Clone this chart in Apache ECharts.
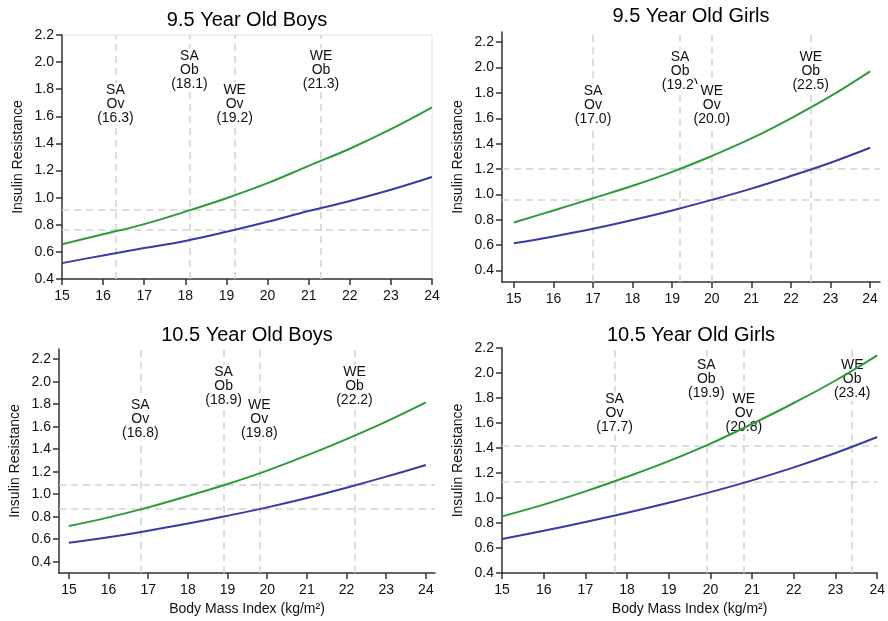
<!DOCTYPE html>
<html>
<head>
<meta charset="utf-8">
<script src="https://cdn.jsdelivr.net/npm/echarts@6/dist/echarts.min.js"></script>
<style>
html,body{margin:0;padding:0;background:#fff;}
#chart{width:888px;height:621px;}
</style>
</head>
<body>
<div id="chart"></div>
<script>
// ---- data ----
const bmi = [15, 16, 17, 18, 19, 20, 21, 22, 23, 24];
const xTicks = [15, 16, 17, 18, 19, 20, 21, 22, 23, 24];
const yTicks = [0.4, 0.6, 0.8, 1.0, 1.2, 1.4, 1.6, 1.8, 2.0, 2.2];

const titles = ['9.5 Year Old Boys', '9.5 Year Old Girls', '10.5 Year Old Boys', '10.5 Year Old Girls'];

// South Asian (green) and White European (blue) insulin resistance by BMI
const boys95SA  = [0.656, 0.730, 0.805, 0.897, 0.996, 1.107, 1.235, 1.361, 1.505, 1.666];
const boys95WE  = [0.517, 0.574, 0.628, 0.681, 0.748, 0.822, 0.901, 0.975, 1.058, 1.152];
const girls95SA = [0.779, 0.874, 0.970, 1.068, 1.178, 1.303, 1.441, 1.600, 1.774, 1.970];
const girls95WE = [0.615, 0.669, 0.729, 0.798, 0.874, 0.957, 1.046, 1.145, 1.250, 1.368];
const boys105SA = [0.717, 0.794, 0.883, 0.984, 1.091, 1.210, 1.345, 1.490, 1.645, 1.815];
const boys105WE = [0.569, 0.618, 0.676, 0.740, 0.809, 0.883, 0.966, 1.058, 1.156, 1.260];
const girls105SA = [0.853, 0.947, 1.053, 1.170, 1.295, 1.435, 1.593, 1.760, 1.940, 2.141];
const girls105WE = [0.672, 0.738, 0.808, 0.882, 0.962, 1.047, 1.141, 1.245, 1.360, 1.488];

// BMI cut-offs: SA Ov, SA Ob, WE Ov, WE Ob
const cutGroups = ['SA', 'SA', 'WE', 'WE'];
const cutClasses = ['Ov', 'Ob', 'Ov', 'Ob'];
const boys95Cut  = [16.3, 18.1, 19.2, 21.3];
const girls95Cut = [17.0, 19.2, 20.0, 22.5];
const boys105Cut = [16.8, 18.9, 19.8, 22.2];
const girls105Cut = [17.7, 19.9, 20.8, 23.4];

// horizontal reference levels of insulin resistance
const boys95Ref  = [0.91, 0.76];
const girls95Ref = [1.20, 0.96];
const boys105Ref = [1.08, 0.87];
const girls105Ref = [1.42, 1.13];

// ---- layout (kept apart from data) ----
const FONT = "'Liberation Sans', Arial, sans-serif";
const layouts = [
  {grid: {left: 62, top: 35, width: 370, height: 244}, x: [15, 24], y: [0.4, 2.2], lab: [1.69, 1.94], titleTop: 10, border: true, xName: ''},
  {grid: {left: 502, top: 32, width: 378, height: 250}, x: [14.7, 24.25], y: [0.31, 2.28], lab: [1.70, 1.97], titleTop: 6, border: false, xName: ''},
  {grid: {left: 59, top: 349, width: 376, height: 224}, x: [14.75, 24.23], y: [0.3, 2.29], lab: [1.67, 1.96], titleTop: 325, border: false, xName: 'Body Mass Index (kg/m²)'},
  {grid: {left: 502, top: 348, width: 378, height: 225}, x: [15, 24], y: [0.4, 2.2], lab: [1.68, 1.95], titleTop: 325, border: false, xName: 'Body Mass Index (kg/m²)'}
];
const panelData = [
  {sa: boys95SA, we: boys95WE, cut: boys95Cut, ref: boys95Ref},
  {sa: girls95SA, we: girls95WE, cut: girls95Cut, ref: girls95Ref},
  {sa: boys105SA, we: boys105WE, cut: boys105Cut, ref: boys105Ref},
  {sa: girls105SA, we: girls105WE, cut: girls105Cut, ref: girls105Ref}
];

const GREEN = '#2f9a3c';
const BLUE = '#3a3aa6';
const AXIS = '#333333';
const TXT = '#111111';

const grid = [], xAxis = [], yAxis = [], title = [], series = [];

layouts.forEach((L, i) => {
  const D = panelData[i];
  grid.push(Object.assign({
    show: L.border, borderColor: '#e0e7ea', borderWidth: 1, backgroundColor: 'transparent', containLabel: false
  }, L.grid));
  title.push({
    text: titles[i],
    left: L.grid.left + L.grid.width / 2,
    top: L.titleTop,
    textAlign: 'center',
    padding: 0,
    textStyle: {fontFamily: FONT, fontSize: 20, fontWeight: 'normal', color: '#000'}
  });
  xAxis.push({
    gridIndex: i, type: 'value', min: L.x[0], max: L.x[1],
    name: L.xName, nameLocation: 'middle', nameGap: 29,
    nameTextStyle: {fontFamily: FONT, fontSize: 14, color: TXT},
    axisLine: {show: true, onZero: false, lineStyle: {color: AXIS, width: 1.5}},
    axisTick: {show: true, length: 6, lineStyle: {color: AXIS, width: 1.5}, customValues: xTicks},
    axisLabel: {show: true, margin: 10, fontFamily: FONT, fontSize: 14, color: TXT, customValues: xTicks,
      formatter: v => String(Math.round(v))},
    splitLine: {show: false}
  });
  yAxis.push({
    gridIndex: i, type: 'value', min: L.y[0], max: L.y[1],
    name: 'Insulin Resistance', nameLocation: 'middle', nameGap: 37, nameRotate: 90,
    nameTextStyle: {fontFamily: FONT, fontSize: 14, color: TXT},
    axisLine: {show: true, onZero: false, lineStyle: {color: AXIS, width: 1.5}},
    axisTick: {show: true, length: 6, lineStyle: {color: AXIS, width: 1.5}, customValues: yTicks},
    axisLabel: {show: true, margin: 8, fontFamily: FONT, fontSize: 14, color: TXT, customValues: yTicks,
      formatter: v => v.toFixed(1)},
    splitLine: {show: false}
  });

  // reference dashed lines
  series.push({
    type: 'line', name: 'ref' + i, xAxisIndex: i, yAxisIndex: i, data: [], z: 1, silent: true,
    markLine: {
      silent: true, z: 1, symbol: ['none', 'none'], animation: false,
      label: {show: false},
      lineStyle: {type: [7, 5], color: '#d2d2d2', width: 1.5},
      emphasis: {disabled: true},
      data: D.cut.map(v => ({xAxis: v})).concat(D.ref.map(v => ({yAxis: v})))
    }
  });
  // cut-off labels
  series.push({
    type: 'scatter', name: 'lab' + i, xAxisIndex: i, yAxisIndex: i, z: 3, silent: true,
    symbolSize: 0,
    itemStyle: {opacity: 1},
    data: D.cut.map((v, k) => ({
      value: [v, cutClasses[k] === 'Ov' ? L.lab[0] : L.lab[1]],
      text: cutGroups[k] + '\n' + cutClasses[k] + '\n(' + v.toFixed(1) + ')'
    })),
    label: {
      show: true, position: 'inside', formatter: p => p.data.text,
      fontFamily: FONT, fontSize: 14, lineHeight: 14, color: TXT, opacity: 1, align: 'center',
      backgroundColor: '#fff', padding: [1, 0, 0, 0]
    }
  });
  // curves
  series.push({
    type: 'line', name: 'South Asian', xAxisIndex: i, yAxisIndex: i, z: 4,
    smooth: 0.4, showSymbol: false, symbol: 'none',
    lineStyle: {color: GREEN, width: 2},
    data: bmi.map((x, k) => [x, D.sa[k]])
  });
  series.push({
    type: 'line', name: 'White European', xAxisIndex: i, yAxisIndex: i, z: 4,
    smooth: 0.4, showSymbol: false, symbol: 'none',
    lineStyle: {color: BLUE, width: 2},
    data: bmi.map((x, k) => [x, D.we[k]])
  });
});

const chart = echarts.init(document.getElementById('chart'), null, {renderer: 'canvas'});
chart.setOption({
  animation: false,
  backgroundColor: '#fff',
  title, grid, xAxis, yAxis, series
});
</script>
</body>
</html>
